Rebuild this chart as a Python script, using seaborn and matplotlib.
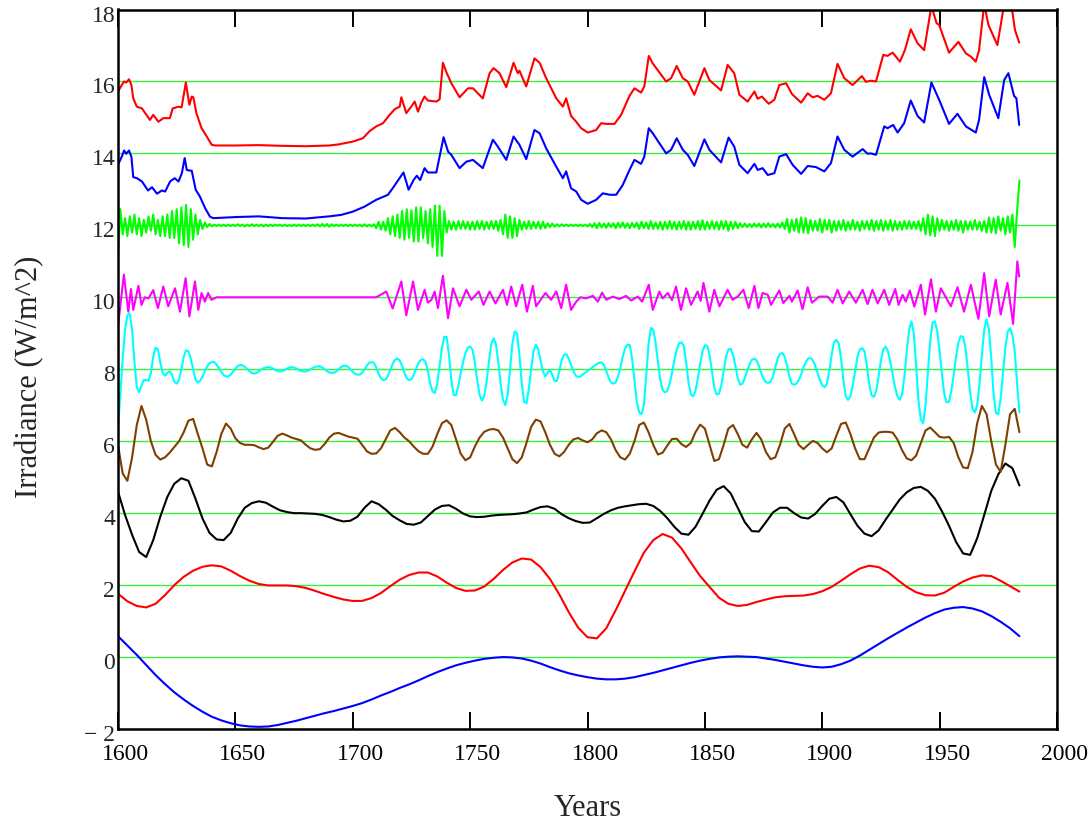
import numpy as np
import seaborn as sns
import matplotlib.pyplot as plt
from matplotlib.transforms import ScaledTranslation

sns.set_style("white")
plt.rcParams['font.family'] = ['Liberation Serif', 'DejaVu Serif']

# ---- data ----
# long term trend (offset 0), every 4 years 1600-1984
trend_vals = [0.58, 0.32, 0.06, -0.22, -0.50, -0.75, -0.98, -1.18, -1.36, -1.52,
              -1.66, -1.76, -1.84, -1.90, -1.93, -1.94, -1.93, -1.89, -1.83, -1.77,
              -1.70, -1.63, -1.56, -1.50, -1.43, -1.36, -1.28, -1.18, -1.07, -0.97,
              -0.86, -0.76, -0.65, -0.53, -0.42, -0.32, -0.23, -0.16, -0.10, -0.05,
              -0.02, 0.00, -0.01, -0.04, -0.10, -0.18, -0.28, -0.37, -0.45, -0.51,
              -0.56, -0.60, -0.62, -0.62, -0.60, -0.56, -0.50, -0.44, -0.37, -0.30,
              -0.23, -0.16, -0.10, -0.05, -0.01, 0.01, 0.02, 0.01, 0.00, -0.04,
              -0.08, -0.13, -0.18, -0.23, -0.27, -0.29, -0.27, -0.20, -0.10, 0.04,
              0.20, 0.36, 0.52, 0.67, 0.82, 0.96, 1.10, 1.22, 1.32, 1.37,
              1.39, 1.35, 1.27, 1.14, 0.98, 0.80, 0.58]

# ~80 yr component (offset 2), every 4 years
red_vals = [1.76, 1.55, 1.42, 1.38, 1.48, 1.72, 2.00, 2.23, 2.40, 2.51,
            2.55, 2.52, 2.40, 2.25, 2.12, 2.03, 1.99, 1.99, 1.99, 1.97,
            1.92, 1.84, 1.75, 1.67, 1.60, 1.56, 1.56, 1.64, 1.78, 1.97,
            2.15, 2.28, 2.35, 2.35, 2.24, 2.07, 1.92, 1.84, 1.85, 1.96,
            2.17, 2.42, 2.63, 2.74, 2.71, 2.50, 2.17, 1.74, 1.25, 0.82,
            0.55, 0.52, 0.80, 1.30, 1.84, 2.38, 2.90, 3.25, 3.42, 3.32,
            3.02, 2.63, 2.25, 1.95, 1.65, 1.48, 1.42, 1.45, 1.53, 1.60,
            1.66, 1.69, 1.70, 1.71, 1.75, 1.83, 1.95, 2.12, 2.30, 2.46,
            2.54, 2.50, 2.36, 2.15, 1.95, 1.80, 1.72, 1.71, 1.79, 1.95,
            2.10, 2.21, 2.27, 2.25, 2.12, 1.97, 1.82]

# ~40 yr component (offset 4), every 3 years
black_vals = [4.60, 3.95, 3.40, 2.92, 2.78, 3.25, 3.90, 4.45, 4.82, 4.97,
              4.90, 4.40, 3.85, 3.45, 3.27, 3.25, 3.45, 3.85, 4.15, 4.28,
              4.33, 4.29, 4.18, 4.08, 4.03, 4.00, 4.00, 3.99, 3.98, 3.95,
              3.89, 3.82, 3.77, 3.79, 3.90, 4.15, 4.33, 4.25, 4.10, 3.92,
              3.80, 3.70, 3.68, 3.74, 3.92, 4.10, 4.20, 4.22, 4.12, 3.99,
              3.91, 3.89, 3.90, 3.93, 3.95, 3.96, 3.97, 3.99, 4.02, 4.10,
              4.17, 4.19, 4.12, 3.97, 3.86, 3.78, 3.73, 3.74, 3.86, 3.98,
              4.08, 4.15, 4.19, 4.22, 4.25, 4.26, 4.20, 4.06, 3.86, 3.62,
              3.43, 3.40, 3.62, 3.98, 4.35, 4.65, 4.75, 4.55, 4.15, 3.75,
              3.50, 3.49, 3.75, 4.02, 4.15, 4.15, 4.00, 3.88, 3.85, 3.98,
              4.20, 4.40, 4.45, 4.30, 3.97, 3.65, 3.43, 3.36, 3.52, 3.82,
              4.10, 4.38, 4.58, 4.70, 4.73, 4.62, 4.40, 4.05, 3.65, 3.20,
              2.88, 2.84, 3.30, 3.95, 4.62, 5.08, 5.38, 5.25, 4.77]

# ~20 yr component (offset 6), every 2 years
brown_vals = [5.90, 5.10, 4.90, 5.55, 6.45, 6.98, 6.60, 6.00, 5.62, 5.49,
              5.55, 5.68, 5.84, 6.00, 6.25, 6.57, 6.62, 6.20, 5.80, 5.35,
              5.30, 5.70, 6.20, 6.49, 6.35, 6.08, 5.95, 5.90, 5.90, 5.89,
              5.83, 5.78, 5.82, 5.98, 6.15, 6.21, 6.16, 6.10, 6.06, 6.02,
              5.90, 5.80, 5.76, 5.78, 5.92, 6.10, 6.21, 6.23, 6.18, 6.13,
              6.10, 6.07, 5.90, 5.72, 5.65, 5.66, 5.80, 6.05, 6.30, 6.37,
              6.25, 6.10, 6.00, 5.85, 5.72, 5.65, 5.65, 5.85, 6.20, 6.50,
              6.58, 6.45, 6.05, 5.65, 5.47, 5.55, 5.85, 6.10, 6.26, 6.32,
              6.34, 6.30, 6.10, 5.80, 5.50, 5.39, 5.55, 5.95, 6.40, 6.60,
              6.55, 6.25, 5.90, 5.65, 5.58, 5.70, 5.90, 6.05, 6.09, 6.02,
              5.97, 6.05, 6.22, 6.30, 6.25, 6.05, 5.75, 5.55, 5.49, 5.65,
              6.00, 6.45, 6.52, 6.25, 5.90, 5.63, 5.68, 5.88, 6.06, 6.07,
              5.92, 5.84, 5.95, 6.25, 6.46, 6.35, 5.90, 5.45, 5.50, 5.90,
              6.35, 6.45, 6.20, 5.90, 5.82, 6.05, 6.23, 6.05, 5.70, 5.50,
              5.55, 5.90, 6.35, 6.48, 6.20, 5.90, 5.78, 5.90, 6.01, 5.95,
              5.80, 5.69, 5.80, 6.15, 6.48, 6.52, 6.20, 5.80, 5.50, 5.50,
              5.80, 6.10, 6.24, 6.26, 6.26, 6.24, 6.05, 5.75, 5.52, 5.47,
              5.60, 5.95, 6.30, 6.38, 6.25, 6.12, 6.10, 6.12, 5.95, 5.55,
              5.27, 5.25, 5.70, 6.50, 6.98, 6.75, 6.00, 5.35, 5.15, 5.90,
              6.75, 6.90, 6.25]

# ~11 yr component (offset 8), yearly
cyan_vals = [6.37, 7.30, 8.30, 9.10, 9.50, 9.55, 9.10, 8.20, 7.50, 7.36,
             7.55, 7.70, 7.70, 7.68, 7.90, 8.35, 8.60, 8.55, 8.20, 7.90,
             7.82, 7.90, 7.94, 7.85, 7.65, 7.60, 7.70, 8.00, 8.35, 8.53,
             8.50, 8.30, 8.00, 7.72, 7.63, 7.68, 7.80, 7.95, 8.08, 8.17,
             8.20, 8.20, 8.13, 8.03, 7.92, 7.84, 7.80, 7.80, 7.85, 7.93,
             8.02, 8.09, 8.12, 8.11, 8.07, 8.01, 7.95, 7.90, 7.88, 7.90,
             7.94, 7.99, 8.03, 8.05, 8.06, 8.05, 8.02, 7.98, 7.95, 7.94,
             7.95, 7.98, 8.02, 8.05, 8.06, 8.05, 8.02, 7.98, 7.95, 7.94,
             7.94, 7.96, 8.00, 8.04, 8.07, 8.08, 8.08, 8.05, 8.00, 7.95,
             7.91, 7.90, 7.90, 7.94, 8.00, 8.06, 8.10, 8.10, 8.07, 8.00,
             7.93, 7.87, 7.85, 7.85, 7.90, 8.00, 8.10, 8.18, 8.20, 8.18,
             8.05, 7.88, 7.75, 7.70, 7.72, 7.82, 7.98, 8.15, 8.26, 8.30,
             8.25, 8.10, 7.90, 7.75, 7.70, 7.72, 7.85, 8.02, 8.17, 8.26,
             8.28, 8.20, 7.95, 7.60, 7.38, 7.34, 7.60, 8.10, 8.60, 8.90,
             8.90, 8.40, 7.70, 7.28, 7.28, 7.55, 7.90, 8.20, 8.45, 8.60,
             8.63, 8.55, 8.20, 7.70, 7.30, 7.13, 7.25, 7.65, 8.20, 8.70,
             8.86, 8.70, 8.20, 7.60, 7.15, 7.00, 7.30, 8.00, 8.70, 9.05,
             9.00, 8.40, 7.60, 7.10, 7.05, 7.45, 8.00, 8.50, 8.68, 8.55,
             8.25, 7.95, 7.80, 7.90, 7.98, 7.85, 7.67, 7.68, 7.95, 8.25,
             8.40, 8.42, 8.30, 8.12, 7.95, 7.82, 7.78, 7.80, 7.85, 7.90,
             7.95, 8.00, 8.05, 8.10, 8.15, 8.18, 8.19, 8.12, 7.95, 7.77,
             7.64, 7.60, 7.63, 7.80, 8.05, 8.35, 8.58, 8.68, 8.67, 8.30,
             7.70, 7.10, 6.80, 6.75, 7.00, 7.80, 8.70, 9.15, 9.10, 8.75,
             8.20, 7.70, 7.42, 7.36, 7.40, 7.60, 7.90, 8.25, 8.55, 8.72,
             8.75, 8.65, 8.20, 7.65, 7.30, 7.25, 7.40, 7.75, 8.15, 8.50,
             8.67, 8.65, 8.40, 7.95, 7.50, 7.30, 7.32, 7.55, 7.95, 8.35,
             8.55, 8.57, 8.40, 8.10, 7.75, 7.57, 7.60, 7.75, 7.95, 8.13,
             8.26, 8.30, 8.25, 8.10, 7.90, 7.73, 7.64, 7.62, 7.65, 7.80,
             8.05, 8.30, 8.43, 8.45, 8.35, 8.10, 7.80, 7.60, 7.57, 7.60,
             7.70, 7.85, 8.05, 8.20, 8.30, 8.31, 8.25, 8.10, 7.90, 7.70,
             7.56, 7.50, 7.60, 7.95, 8.40, 8.75, 8.82, 8.72, 8.30, 7.70,
             7.25, 7.15, 7.25, 7.55, 7.95, 8.35, 8.55, 8.59, 8.50, 8.10,
             7.60, 7.28, 7.23, 7.40, 7.80, 8.25, 8.55, 8.63, 8.50, 8.20,
             7.85, 7.50, 7.25, 7.15, 7.30, 7.80, 8.50, 9.10, 9.33, 9.00,
             8.10, 7.10, 6.60, 6.50, 7.00, 7.90, 8.80, 9.30, 9.33, 9.05,
             8.50, 7.85, 7.30, 7.08, 7.10, 7.40, 7.85, 8.35, 8.75, 8.92,
             8.90, 8.60, 8.00, 7.35, 6.90, 6.80, 7.00, 7.60, 8.40, 9.10,
             9.39, 9.10, 8.30, 7.30, 6.78, 6.75, 7.20, 7.90, 8.60, 9.05,
             9.14, 8.95, 8.50, 7.60, 6.80]

# ~4-5 yr component (offset 10), turning points
mag_years = [1600, 1602.5, 1604.4, 1605.5, 1606.5, 1608.7, 1610, 1611.4, 1613, 1615,
             1617, 1619.3, 1621.4, 1624.3, 1626.4, 1628.8, 1630.4, 1632.8, 1634.2, 1635.6,
             1637, 1638.4, 1639.8, 1642, 1660, 1680, 1700, 1710, 1714.3, 1717,
             1720.7, 1722.8, 1725.7, 1727.8, 1730.6, 1732, 1733.5, 1734.9, 1736.3, 1738.4,
             1740.6, 1742.7, 1745.5, 1748.4, 1750.5, 1753.7, 1755.7, 1758.3, 1760.8, 1764,
             1765.7, 1767.5, 1769.6, 1772.2, 1774.2, 1776.7, 1778.1, 1782.1, 1784.5, 1786.7,
             1788.8, 1790.9, 1793, 1795.2, 1797, 1799.4, 1802.3, 1804.4, 1806.2, 1808,
             1810.8, 1813.6, 1816.4, 1818.6, 1821.4, 1823.3, 1826.1, 1827.8, 1830.6, 1832,
             1834.2, 1836, 1837.7, 1839.8, 1842, 1844.1, 1846.9, 1848.2, 1849.4, 1851.9,
             1854, 1856.2, 1859.7, 1861.8, 1864, 1866.4, 1868.7, 1871.1, 1872.8, 1874.6,
             1876.8, 1878.2, 1881.7, 1883.4, 1886, 1887.1, 1889.5, 1891.6, 1893.8, 1895.6,
             1898.7, 1902.3, 1904.4, 1906.5, 1908.7, 1911.5, 1914.3, 1917.2, 1919.3, 1921.4,
             1923.6, 1926.4, 1928.5, 1931.1, 1932.5, 1934.2, 1935.6, 1937.3, 1939.2, 1942,
             1943.8, 1946.3, 1948.4, 1950.5, 1954.8, 1957.6, 1960.4, 1963.3, 1966.5, 1969,
             1971.1, 1973.9, 1976, 1978.9, 1981.3, 1983.1, 1983.9]
mag_vals = [9.19, 10.63, 9.60, 10.23, 9.65, 10.32, 9.79, 10.00, 9.97, 10.20,
            9.70, 10.30, 9.75, 10.25, 9.60, 10.53, 9.47, 10.44, 9.65, 10.12,
            9.88, 10.12, 9.93, 10.00, 10.00, 10.00, 10.00, 10.00, 10.16, 9.69,
            10.44, 9.50, 10.44, 9.65, 10.21, 9.85, 9.93, 10.16, 9.70, 10.60,
            9.42, 10.25, 9.75, 10.21, 9.93, 10.16, 9.79, 10.16, 9.83, 10.21,
            9.79, 10.30, 9.75, 10.35, 9.60, 10.32, 9.75, 10.12, 9.93, 10.16,
            9.70, 10.35, 9.65, 9.88, 10.00, 9.97, 10.04, 9.88, 10.13, 9.93,
            10.02, 9.95, 10.04, 9.91, 10.02, 9.88, 10.35, 9.65, 10.16, 9.97,
            10.12, 9.92, 10.30, 9.65, 10.25, 9.79, 10.16, 9.90, 10.40, 9.60,
            10.21, 9.75, 10.21, 9.93, 10.02, 10.21, 9.70, 10.32, 9.70, 10.12,
            10.07, 9.79, 10.19, 9.84, 10.04, 9.88, 10.19, 9.67, 10.28, 9.85,
            10.02, 10.02, 9.85, 10.21, 9.83, 10.16, 9.85, 10.21, 9.81, 10.21,
            9.83, 10.21, 9.79, 10.23, 9.79, 10.07, 9.88, 10.19, 9.74, 10.35,
            9.52, 10.50, 9.60, 10.25, 9.75, 10.28, 9.60, 10.35, 9.40, 10.67,
            9.47, 10.49, 9.52, 10.40, 9.26, 11.00, 10.58]

# ~2 yr component, yearly deviations around its offset of 12
green_shift = 12.0
green_dev = [-0.90, 0.45, -0.25, 0.20, -0.30, 0.25, -0.20, 0.30, -0.25, 0.20,
             -0.30, 0.15, -0.20, 0.25, -0.15, 0.30, -0.25, 0.15, -0.30, 0.25,
             -0.30, 0.30, -0.35, 0.40, -0.35, 0.45, -0.50, 0.50, -0.55, 0.57,
             -0.60, 0.45, -0.40, 0.30, -0.25, 0.15, -0.10, 0.08, -0.05, 0.04,
             -0.03, 0.02, -0.02, 0.02, -0.02, 0.02, -0.02, 0.02, -0.02, 0.02,
             -0.02, 0.03, -0.02, 0.02, -0.03, 0.02, -0.02, 0.03, -0.02, 0.02,
             -0.02, 0.02, -0.03, 0.02, -0.02, 0.02, -0.02, 0.02, -0.01, 0.02,
             -0.02, 0.02, -0.02, 0.01, -0.02, 0.02, -0.02, 0.02, -0.02, 0.02,
             -0.02, 0.02, -0.02, 0.02, -0.02, 0.03, -0.03, 0.04, -0.03, 0.04,
             -0.04, 0.03, -0.02, 0.02, -0.02, 0.02, -0.02, 0.02, -0.02, 0.02,
             -0.02, 0.02, -0.02, 0.02, -0.03, 0.03, -0.03, 0.02, -0.03, 0.03,
             -0.08, 0.10, -0.12, 0.10, -0.15, 0.20, -0.25, 0.25, -0.30, 0.30,
             -0.35, 0.40, -0.40, 0.45, -0.35, 0.42, -0.45, 0.50, -0.45, 0.50,
             -0.35, 0.40, -0.50, 0.45, -0.60, 0.55, -0.85, 0.55, -0.85, 0.40,
             -0.20, 0.12, -0.12, 0.10, -0.12, 0.12, -0.10, 0.12, -0.10, 0.10,
             -0.12, 0.10, -0.12, 0.12, -0.10, 0.12, -0.12, 0.10, -0.10, 0.12,
             -0.10, 0.12, -0.15, 0.15, -0.25, 0.30, -0.35, 0.25, -0.35, 0.20,
             -0.30, 0.15, -0.12, 0.10, -0.10, 0.12, -0.10, 0.10, -0.08, 0.10,
             -0.10, 0.10, -0.08, 0.06, -0.05, 0.05, -0.04, 0.03, -0.03, 0.03,
             -0.02, 0.02, -0.02, 0.02, -0.02, 0.02, -0.02, 0.02, -0.02, 0.02,
             -0.03, 0.04, -0.05, 0.06, -0.08, 0.07, -0.06, 0.05, -0.07, 0.06,
             -0.05, 0.06, -0.08, 0.07, -0.06, 0.08, -0.07, 0.06, -0.08, 0.07,
             -0.06, 0.08, -0.10, 0.10, -0.08, 0.08, -0.10, 0.12, -0.10, 0.08,
             -0.10, 0.10, -0.12, 0.10, -0.10, 0.12, -0.10, 0.10, -0.12, 0.10,
             -0.10, 0.12, -0.12, 0.10, -0.12, 0.10, -0.10, 0.12, -0.12, 0.14,
             -0.12, 0.10, -0.10, 0.12, -0.10, 0.10, -0.12, 0.12, -0.10, 0.12,
             -0.15, 0.10, -0.10, 0.10, -0.08, 0.06, -0.05, 0.05, -0.05, 0.04,
             -0.05, 0.05, -0.04, 0.05, -0.06, 0.05, -0.05, 0.06, -0.05, 0.04,
             -0.06, 0.05, -0.06, 0.08, -0.10, 0.18, -0.20, 0.15, -0.15, 0.18,
             -0.20, 0.22, -0.20, 0.20, -0.22, 0.15, -0.15, 0.12, -0.15, 0.18,
             -0.20, 0.15, -0.12, 0.15, -0.20, 0.12, -0.15, 0.12, -0.12, 0.15,
             -0.15, 0.10, -0.12, 0.15, -0.12, 0.10, -0.15, 0.12, -0.10, 0.12,
             -0.12, 0.15, -0.15, 0.12, -0.12, 0.15, -0.15, 0.12, -0.12, 0.15,
             -0.15, 0.12, -0.12, 0.10, -0.12, 0.12, -0.10, 0.12, -0.10, 0.10,
             -0.10, 0.12, -0.15, 0.20, -0.25, 0.30, -0.28, 0.25, -0.30, 0.20,
             -0.15, 0.15, -0.12, 0.12, -0.15, 0.12, -0.12, 0.15, -0.15, 0.12,
             -0.20, 0.12, -0.12, 0.10, -0.12, 0.15, -0.12, 0.10, -0.15, 0.12,
             -0.20, 0.22, -0.20, 0.20, -0.22, 0.25, -0.15, 0.20, -0.25, 0.25,
             -0.20, 0.30, -0.60, 0.40, 1.25]

# irradiance record (blue, upper)
tsi_years = [1600, 1601.6, 1602.6, 1603.5, 1604.7, 1605.7, 1606.5, 1608.1, 1610.2, 1612.8,
             1614.5, 1616.6, 1618.7, 1620.1, 1622.2, 1624.1, 1625.8, 1627.2, 1628.4, 1629.3,
             1630.7, 1631.4, 1633.1, 1634.9, 1637.1, 1639.2, 1640.6, 1650, 1660, 1670,
             1680, 1690, 1695, 1700, 1705, 1710, 1715, 1717, 1719, 1721.6,
             1723.8, 1725.9, 1727.3, 1728.7, 1730.6, 1732, 1735.6, 1737, 1738.7, 1740.6,
             1742, 1745.5, 1748.4, 1751.2, 1755.4, 1757.6, 1759.7, 1761.8, 1765.4, 1768.5,
             1771, 1773.9, 1777.4, 1779.6, 1782.4, 1786.7, 1789.5, 1790.9, 1793, 1795.2,
             1797.3, 1800.1, 1803.7, 1806.5, 1809.4, 1812.2, 1815, 1817.9, 1820, 1822.8,
             1824.2, 1826.1, 1827.8, 1833.5, 1835.6, 1838, 1840.6, 1842.7, 1845.5, 1849.8,
             1851.9, 1856.9, 1860.1, 1862.5, 1864.7, 1868.2, 1871.1, 1872.5, 1874.6, 1876.8,
             1879.6, 1881.7, 1884.6, 1887.4, 1891, 1893.8, 1897.3, 1900.9, 1903.7, 1906.5,
             1909.4, 1912.9, 1917.2, 1919.3, 1920.7, 1922.9, 1926.4, 1927.8, 1930.2, 1932.1,
             1934.9, 1937.7, 1940.6, 1943.4, 1946.5, 1949.8, 1954, 1957.6, 1961.2, 1965.4,
             1966.8, 1969, 1971.1, 1975, 1977.5, 1979.3, 1981.7, 1982.7, 1983.9]
tsi_vals = [13.68, 13.91, 14.08, 13.99, 14.08, 13.91, 13.34, 13.31, 13.22, 12.97,
            13.06, 12.88, 12.97, 12.94, 13.22, 13.31, 13.22, 13.45, 13.87, 13.54,
            13.52, 13.52, 12.99, 12.80, 12.48, 12.24, 12.20, 12.23, 12.25, 12.20,
            12.19, 12.25, 12.29, 12.38, 12.52, 12.71, 12.85, 13.03, 13.22, 13.47,
            12.99, 13.26, 13.38, 13.26, 13.59, 13.47, 13.47, 13.91, 14.45, 14.05,
            13.96, 13.59, 13.77, 13.82, 13.59, 14.00, 14.38, 14.19, 13.82, 14.47,
            14.24, 13.84, 14.65, 14.56, 14.14, 13.63, 13.31, 13.50, 13.03, 12.94,
            12.71, 12.60, 12.71, 12.89, 12.85, 12.85, 13.12, 13.54, 13.82, 13.71,
            13.91, 14.70, 14.56, 14.00, 14.10, 14.42, 14.10, 13.96, 13.65, 14.39,
            14.10, 13.75, 14.44, 14.19, 13.68, 13.45, 13.71, 13.54, 13.59, 13.40,
            13.45, 13.91, 13.98, 13.68, 13.43, 13.65, 13.62, 13.50, 13.73, 14.47,
            14.10, 13.91, 14.12, 13.99, 14.00, 13.96, 14.75, 14.70, 14.79, 14.58,
            14.84, 15.47, 15.04, 14.86, 15.97, 15.49, 14.82, 15.10, 14.75, 14.58,
            14.93, 16.12, 15.63, 14.98, 16.04, 16.23, 15.60, 15.53, 14.79]

# reconstruction (red, upper)
rec_years = [1600, 1601.6, 1602.6, 1603.5, 1604.7, 1605.7, 1606.5, 1608, 1610.2, 1613.6,
             1615, 1617.2, 1619.3, 1622.1, 1623.3, 1625.7, 1627.1, 1628.9, 1630.4, 1631.4,
             1632.1, 1633.4, 1635.6, 1637.8, 1639.9, 1641.3, 1650, 1660, 1670, 1680,
             1690, 1694, 1700.1, 1704.3, 1707.2, 1710, 1712.9, 1715.7, 1717.9, 1720,
             1720.7, 1722.8, 1724.9, 1726.4, 1727.8, 1729.2, 1730.6, 1732, 1735.6, 1737,
             1738.4, 1739.8, 1742, 1745.5, 1749.1, 1751.2, 1755.4, 1758.3, 1760, 1762.5,
             1765.4, 1768.5, 1770.3, 1771, 1773.9, 1777.4, 1779.6, 1782.4, 1786.7, 1789.5,
             1790.9, 1793, 1795.2, 1797.3, 1800.1, 1803.7, 1805.8, 1807.9, 1811.5, 1814.3,
             1817.9, 1820, 1822.8, 1824.2, 1826.1, 1827.8, 1833.5, 1835.6, 1838, 1840.6,
             1842.7, 1845.5, 1849.8, 1851.9, 1856.9, 1859.7, 1862.5, 1864.7, 1868.2, 1871.1,
             1872.5, 1874.3, 1877.2, 1879.6, 1881.7, 1884.6, 1887.1, 1891, 1893.8, 1895.9,
             1898, 1900.9, 1903.7, 1906.5, 1909.4, 1912.9, 1916.9, 1918.6, 1920.7, 1922.9,
             1926, 1927.8, 1930, 1933.1, 1935.2, 1937.7, 1940.6, 1943.4, 1946.5, 1948.7,
             1949.8, 1954, 1958, 1961.2, 1963.3, 1965.4, 1966.8, 1969, 1970.8, 1974.6,
             1977.5, 1980.3, 1982.1, 1983.9]
rec_vals = [15.72, 15.90, 16.00, 15.97, 16.06, 15.90, 15.53, 15.30, 15.25, 14.93,
            15.07, 14.88, 14.98, 14.98, 15.25, 15.30, 15.28, 15.97, 15.35, 15.58,
            15.56, 15.12, 14.70, 14.47, 14.24, 14.22, 14.22, 14.23, 14.21, 14.20,
            14.22, 14.25, 14.33, 14.42, 14.62, 14.75, 14.84, 15.07, 15.23, 15.30,
            15.56, 15.12, 15.30, 15.44, 15.16, 15.41, 15.58, 15.47, 15.44, 15.50,
            16.52, 16.27, 15.95, 15.56, 15.81, 15.81, 15.53, 16.23, 16.37, 16.23,
            15.84, 16.52, 16.23, 16.30, 15.86, 16.64, 16.52, 16.09, 15.53, 15.30,
            15.53, 15.04, 14.88, 14.70, 14.58, 14.65, 14.84, 14.82, 14.82, 15.07,
            15.60, 15.81, 15.69, 15.86, 16.71, 16.50, 16.00, 16.09, 16.43, 16.09,
            16.00, 15.63, 16.37, 16.04, 15.75, 16.46, 16.23, 15.63, 15.44, 15.72,
            15.52, 15.58, 15.38, 15.49, 15.90, 15.95, 15.65, 15.41, 15.67, 15.56,
            15.60, 15.49, 15.67, 16.49, 16.09, 15.90, 16.15, 15.99, 16.02, 16.00,
            16.74, 16.71, 16.80, 16.55, 16.87, 17.45, 17.06, 16.87, 18.10, 17.62,
            17.57, 16.80, 17.10, 16.78, 16.69, 16.55, 16.87, 18.15, 17.57, 17.01,
            18.15, 18.25, 17.43, 17.08]

y_ticks = [-2, 0, 2, 4, 6, 8, 10, 12, 14, 16, 18]
y_ticklabels = ['\u2212 2', '0', '2', '4', '6', '8', '10', '12', '14', '16', '18']
x_ticks = [1600, 1650, 1700, 1750, 1800, 1850, 1900, 1950, 2000]

# ---- assemble ----
def yrs(vals, step):
    return np.arange(len(vals)) * step + 1600

green_vals = np.array(green_dev) + green_shift

series = [
    (yrs(trend_vals, 4), trend_vals, "#0000ff"),
    (yrs(red_vals, 4), red_vals, "#ff0000"),
    (yrs(black_vals, 3), black_vals, "#000000"),
    (yrs(brown_vals, 2), brown_vals, "#7f3f00"),
    (yrs(cyan_vals, 1), cyan_vals, "#00ffff"),
    (mag_years, mag_vals, "#ff00ff"),
    (yrs(green_vals, 1), green_vals, "#00ff00"),
    (tsi_years, tsi_vals, "#0000ff"),
    (rec_years, rec_vals, "#ff0000"),
]

fig = plt.figure(figsize=(10.92, 8.26), dpi=100)
ax = fig.add_axes([118 / 1092, 1 - 729 / 826, 939 / 1092, 719.5 / 826])

for x, y, c in series:
    sns.lineplot(x=x, y=y, color=c, linewidth=1.5, sort=False, estimator=None, ax=ax)

ax.set_xlim(1600, 2000)
ax.set_ylim(-2, 18)
ax.set_xticks(x_ticks)
ax.set_yticks(y_ticks)
ax.set_yticklabels(y_ticklabels)
ax.set_axisbelow(True)
ax.yaxis.grid(True, color="#3cf03c", linewidth=1.0)
ax.xaxis.grid(False)

for sp in ax.spines.values():
    sp.set_color("black")
    sp.set_linewidth(1.8)

ax.tick_params(axis="x", direction="in", length=12, width=1.4, top=True,
               bottom=True, labelsize=17, pad=11, colors="black")
ax.tick_params(axis="y", direction="in", length=0, labelsize=17, pad=2)

dx = ScaledTranslation(7.5 / 100, 0, fig.dpi_scale_trans)
for lab in ax.get_xticklabels():
    lab.set_transform(lab.get_transform() + dx)
dy = ScaledTranslation(0, -4 / 100, fig.dpi_scale_trans)
for lab in ax.get_yticklabels():
    lab.set_transform(lab.get_transform() + dy)

ax.set_xlabel("Years", fontsize=22, va="center")
ax.xaxis.set_label_coords(0.5, (729 - 808) / 719.5)
ax.set_ylabel("Irradiance (W/m^2)", fontsize=22, va="center")
ax.yaxis.set_label_coords((30 - 118) / 939, (729 - 377) / 719.5)

fig.savefig("out.png", dpi=100)
